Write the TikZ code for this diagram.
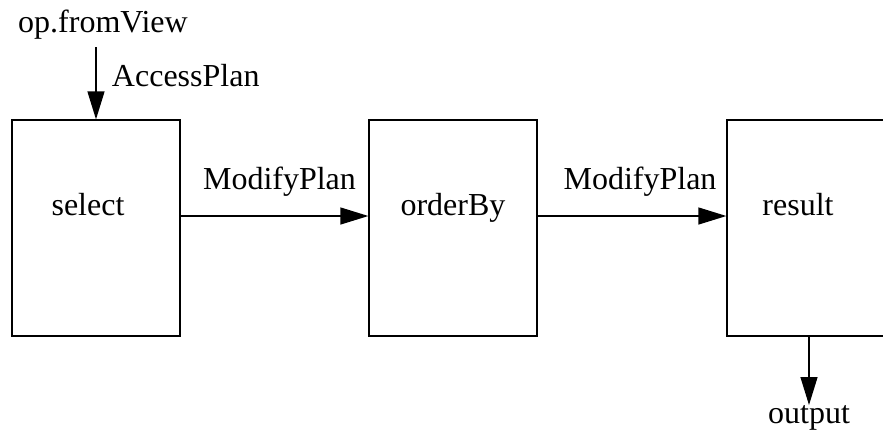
\documentclass[tikz,border=0pt]{standalone}
\usepackage{fontspec}
\setmainfont{Liberation Serif}
\usetikzlibrary{arrows.meta}
\tikzset{block/.style={draw, line width=1.3pt, minimum width=168pt, minimum height=216pt, inner sep=0pt},
 txt/.style={font=\fontsize{32}{38}\selectfont},
 flow/.style={line width=1.3pt, -{Triangle[length=28pt,width=17pt]}},
 }

\begin{document}
\begin{tikzpicture}[x=1pt, y=-1pt]
        \clip (0,0) rectangle (883,432);
        \node[block] (select) at (96,228) {};
        \node[block] (orderBy) at (453,228) {};
        \node[block] (result) at (811,228) {};
        \node[txt, anchor=base] (selectlbl) at (88,215) {select};
        \node[txt, anchor=base] (orderBylbl) at (453,215) {orderBy};
        \node[txt, anchor=base] (resultlbl) at (798,215) {result};
        \node[txt] (view) at (103,25) {op.fromView};
        \coordinate (in) at (96,47);
        \coordinate (out) at (809,405);
        \node[txt] (outlbl) at (809,418) {output};
        \draw[flow] (in) -- node[txt, right=12pt, yshift=8pt] {AccessPlan} (select.north);
        \draw[flow] ([yshift=12pt]select.east) -- node[txt, above=16pt, xshift=5pt] {ModifyPlan} ([yshift=12pt]orderBy.west);
        \draw[flow] ([yshift=12pt]orderBy.east) -- node[txt, above=16pt, xshift=8pt] {ModifyPlan} ([yshift=12pt]result.west);
        \draw[flow] (result.south -| out) -- (out);
    \end{tikzpicture}
\end{document}
